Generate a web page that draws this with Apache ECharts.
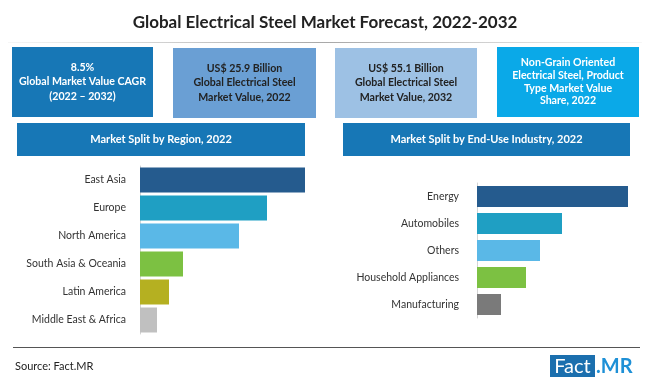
<!DOCTYPE html>
<html><head><meta charset="utf-8">
<script src="https://cdn.jsdelivr.net/npm/echarts@6/dist/echarts.min.js"></script>
<style>html,body{margin:0;padding:0;background:#fff}#c{width:650px;height:385px}</style>
</head><body><div id="c"></div>
<script>
const regionCategories = ['East Asia','Europe','North America','South Asia & Oceania','Latin America','Middle East & Africa'];
const regionValues = [165, 127, 99, 43, 29, 17];
const regionColors = ['#255b8e','#1f9fc3','#5ab8e7','#7cc142','#b5b021','#c0c0c0'];
const industryCategories = ['Energy','Automobiles','Others','Household Appliances','Manufacturing'];
const industryValues = [151, 85, 63, 49, 24];
const industryColors = ['#255b8e','#1f9fc3','#5ab8e7','#7cc142','#7a7a7a'];

const FONT = 'Lato';
const chart = echarts.init(document.getElementById('c'), null, {renderer:'canvas'});

function box(x,y,w,h,fill,lines,color,lh,fs){
  return {type:'group', children:[
    {type:'rect', shape:{x:x,y:y,width:w,height:h}, style:{fill:fill}},
    {type:'text', x:x+w/2, y:y+h/2, style:{text:lines.join('\n'), fill:color, font:'bold '+(fs||10.6)+'px '+FONT, align:'center', verticalAlign:'middle', lineHeight:lh}}
  ]};
}

const option = {
  animation:false,
  backgroundColor:'#fff',
  graphic:[
    {type:'text', x:325, y:23, style:{text:'Global Electrical Steel Market Forecast, 2022-2032', fill:'#222', font:'bold 17px '+FONT, align:'center', verticalAlign:'middle'}},
    {type:'rect', shape:{x:8,y:42,width:634,height:1}, style:{fill:new echarts.graphic.LinearGradient(0,0,1,0,[{offset:0,color:'rgba(170,170,170,0.1)'},{offset:0.5,color:'#a8a8a8'},{offset:1,color:'rgba(170,170,170,0.1)'}])}},
    box(12,47,141,70,'#1777b6',['8.5%','Global Market Value CAGR','(2022 – 2032)'],'#fff',14.5),
    box(173,48,143,70,'#6a9fd4',['US$ 25.9 Billion','Global Electrical Steel','Market Value, 2022'],'#222',14.5),
    box(335,48,142,70,'#9dc1e4',['US$ 55.1 Billion','Global Electrical Steel','Market Value, 2032'],'#222',14.5),
    box(497,47,142,70,'#0aa9e8',['Non-Grain Oriented','Electrical Steel, Product','Type Market Value','Share, 2022'],'#fff',12.7),
    box(17,123,288,33,'#1777b6',['Market Split by Region, 2022'],'#fff',14,11),
    box(343,123,287,33,'#1777b6',['Market Split by End-Use Industry, 2022'],'#fff',14,11),
    {type:'rect', shape:{x:13,y:347,width:627,height:1}, style:{fill:'#555'}},
    {type:'text', x:15, y:366, style:{text:'Source: Fact.MR', fill:'#222', font:'11px '+FONT, align:'left', verticalAlign:'middle'}},
    {type:'rect', shape:{x:550,y:355,width:45,height:22}, style:{fill:'#1b6fae'}},
    {type:'text', x:572.5, y:366.5, style:{text:'Fact', fill:'#fff', font:'20px '+FONT, align:'center', verticalAlign:'middle'}},
    {type:'text', x:596, y:366.5, style:{text:'.MR', fill:'#1e90d6', font:'bold 20px '+FONT, align:'left', verticalAlign:'middle'}}
  ],
  grid:[
    {left:140, top:166, width:165, height:168},
    {left:477, top:183, width:151, height:135}
  ],
  xAxis:[
    {gridIndex:0, type:'value', min:0, max:165, show:false},
    {gridIndex:1, type:'value', min:0, max:151, show:false}
  ],
  yAxis:[
    {gridIndex:0, type:'category', data:regionCategories, inverse:true,
     axisLine:{show:true, lineStyle:{color:'#d4d4d4', width:1}}, axisTick:{show:false},
     axisLabel:{margin:14, color:'#333', fontFamily:FONT, fontSize:10.5}},
    {gridIndex:1, type:'category', data:industryCategories, inverse:true,
     axisLine:{show:true, lineStyle:{color:'#d4d4d4', width:1}}, axisTick:{show:false},
     axisLabel:{margin:18, color:'#333', fontFamily:FONT, fontSize:10.5}}
  ],
  series:[
    {type:'bar', xAxisIndex:0, yAxisIndex:0, barWidth:25,
     data:regionValues.map((v,i)=>({value:v, itemStyle:{color:regionColors[i]}}))},
    {type:'bar', xAxisIndex:1, yAxisIndex:1, barWidth:21,
     data:industryValues.map((v,i)=>({value:v, itemStyle:{color:industryColors[i]}}))}
  ]
};
chart.setOption(option);
</script></body></html>
